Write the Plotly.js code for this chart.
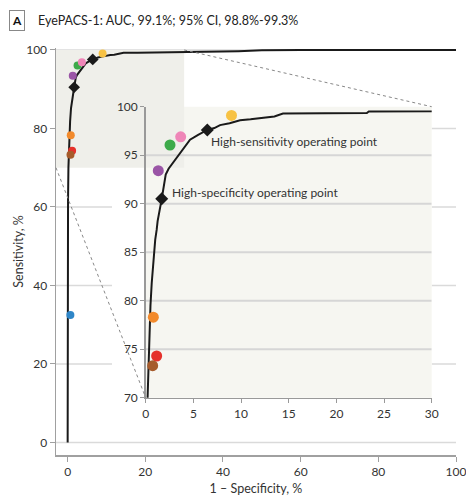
<!DOCTYPE html>
<html>
<head>
<meta charset="utf-8">
<script src="https://cdn.plot.ly/plotly-3.0.1.min.js"></script>
<style>html,body{margin:0;padding:0;background:#fff;}#chart{width:466px;height:502px;}</style>
</head>
<body>
<div id="chart"></div>
<script>
// ROC curve (1 - specificity %, sensitivity %)
const rocFpr = [0, 0, 0.05, 0.1, 0.2, 0.38, 0.5, 0.63, 0.87, 1.0, 1.15, 1.25, 1.68, 1.9, 2.1, 2.4, 3.0, 3.6, 4.2, 4.65, 5.5, 6.46, 7.2, 7.8, 8.8, 9.9, 11, 12, 13.5, 14.4, 18, 23.2, 23.4, 30, 35, 44, 50, 60, 80, 100];
const rocTpr = [0, 20, 45, 62, 70.1, 77, 79.5, 81.8, 85.2, 86.3, 87.3, 88.2, 90.5, 91.8, 93.0, 93.6, 94.4, 95.2, 96.0, 96.6, 97.1, 97.6, 97.8, 98.1, 98.3, 98.6, 98.7, 98.8, 99.0, 99.3, 99.3, 99.35, 99.5, 99.5, 99.6, 99.7, 99.9, 100, 100, 100];

// Individual graders
const graderFpr = [0.7, 0.8, 1.15, 0.73, 1.32, 2.55, 3.67, 9.0];
const graderTpr = [32.5, 78.3, 74.3, 73.3, 93.4, 96.05, 96.9, 99.1];
const graderColors = ['#2f86c8', '#f28a2c', '#e5312b', '#a65b2b', '#9a55a6', '#3daa4a', '#ef86b8', '#f7c244'];

// Operating points
const opFpr = [1.68, 6.46];
const opTpr = [90.5, 97.6];
const opLabels = ['High-specificity operating point', 'High-sensitivity operating point'];

// Ticks
const mainTicks = [0, 20, 40, 60, 80, 100];
const insetXTicks = [0, 5, 10, 15, 20, 25, 30];
const insetYTicks = [70, 75, 80, 85, 90, 95, 100];
const insetGrid = [75, 80, 85, 90, 95];

const FONT = 'Lato, "Open Sans", sans-serif';
const TXT = '#333333';

const ML = 56, MR = 10, MT = 48, MB = 47, W = 466, H = 502;
const PW = W - ML - MR, PH = H - MT - MB;
const mainX = [-3, 100], mainY = [-3.2, 100.5];
const insetX = [0, 30], insetY = [70, 100];
const insetDomX = [(145.7 - ML) / PW, (431.7 - ML) / PW];
const insetDomY = [(H - MB - 397.7) / PH, (H - MB - 106.7) / PH];

function px(v, r) { return (v - r[0]) / (r[1] - r[0]); }

const traces = [
  {x: rocFpr, y: rocTpr, xaxis: 'x', yaxis: 'y', mode: 'lines', line: {color: '#1a1a1a', width: 2}, hoverinfo: 'skip'},
  {x: graderFpr, y: graderTpr, xaxis: 'x', yaxis: 'y', mode: 'markers', marker: {color: graderColors, size: 8}},
  {x: opFpr, y: opTpr, xaxis: 'x', yaxis: 'y', mode: 'markers', marker: {color: '#1a1a1a', size: 9, symbol: 'diamond'}},
  {x: rocFpr, y: rocTpr, xaxis: 'x2', yaxis: 'y2', mode: 'lines', line: {color: '#1a1a1a', width: 2}},
  {x: graderFpr, y: graderTpr, xaxis: 'x2', yaxis: 'y2', mode: 'markers', marker: {color: graderColors, size: 11}},
  {x: opFpr, y: opTpr, xaxis: 'x2', yaxis: 'y2', mode: 'markers', marker: {color: '#1a1a1a', size: 10, symbol: 'diamond'}}
];

const shapes = [];
// shaded zoom region in main plot
shapes.push({type: 'rect', xref: 'x', yref: 'y', x0: -3, x1: 30, y0: 70, y1: 100, layer: 'below', fillcolor: '#efefea', line: {width: 0}});
// main gridlines
mainTicks.forEach(t => shapes.push({type: 'line', xref: 'paper', yref: 'y', x0: 0, x1: 1, y0: t, y1: t, layer: 'below', line: {color: '#dadada', width: 1.5}}));
// white box behind the inset (paper coords)
shapes.push({type: 'rect', xref: 'paper', yref: 'paper', x0: (112 - ML) / PW, x1: insetDomX[1], y0: (H - MB - 430) / PH, y1: (H - MB - 93) / PH, layer: 'below', fillcolor: '#ffffff', line: {width: 0}});
// inset background
shapes.push({type: 'rect', xref: 'paper', yref: 'paper', x0: insetDomX[0], x1: insetDomX[1], y0: insetDomY[0], y1: insetDomY[1], layer: 'below', fillcolor: '#f6f6f1', line: {width: 0}});
// connector dotted lines
shapes.push({type: 'line', xref: 'paper', yref: 'paper', x0: px(30, mainX), y0: px(100, mainY), x1: insetDomX[1], y1: insetDomY[1], layer: 'above', line: {color: '#888', width: 1, dash: 'dot'}});
shapes.push({type: 'line', xref: 'paper', yref: 'paper', x0: px(-3, mainX), y0: px(70, mainY), x1: insetDomX[0], y1: insetDomY[0], layer: 'above', line: {color: '#888', width: 1, dash: 'dot'}});
// inset gridlines
insetGrid.forEach(t => shapes.push({type: 'line', xref: 'x2', yref: 'y2', x0: insetX[0], x1: insetX[1], y0: t, y1: t, layer: 'below', line: {color: '#d6d6d6', width: 2}}));

const annotations = [
  {xref: 'paper', yref: 'paper', x: (16.5 - ML) / PW, y: (H - MB - 20.5) / PH, text: '<b>A</b>', showarrow: false, font: {family: FONT, size: 12, color: '#111'}, bordercolor: '#888', borderwidth: 1, borderpad: 2, xanchor: 'center', yanchor: 'middle'},
  {xref: 'x2', yref: 'y2', x: opFpr[1], y: opTpr[1], text: opLabels[1], showarrow: false, xanchor: 'left', yanchor: 'middle', xshift: 2, yshift: -12, font: {family: FONT, size: 12, color: TXT}},
  {xref: 'x2', yref: 'y2', x: opFpr[0], y: opTpr[0], text: opLabels[0], showarrow: false, xanchor: 'left', yanchor: 'middle', xshift: 8, yshift: 6, font: {family: FONT, size: 12, color: TXT}}
];

const axCommon = {showline: true, linecolor: '#a0a0a0', linewidth: 1.5, ticks: 'outside', ticklen: 5, tickcolor: '#a0a0a0', zeroline: false, showgrid: false, tickfont: {family: FONT, size: 12, color: TXT}, fixedrange: true, ticklabeloverflow: 'allow'};

const layout = {
  width: W, height: H,
  margin: {l: ML, r: MR, t: MT, b: MB},
  paper_bgcolor: '#ffffff', plot_bgcolor: 'rgba(0,0,0,0)',
  showlegend: false,
  font: {family: FONT, color: TXT},
  title: {text: 'EyePACS-1: AUC, 99.1%; 95% CI, 98.8%-99.3%', x: 38 / W, xanchor: 'left', xref: 'container', y: 1 - 21 / H, yanchor: 'middle', font: {family: FONT, size: 12.5, color: '#222'}},
  xaxis: Object.assign({}, axCommon, {range: mainX, tickvals: mainTicks, anchor: 'y', domain: [0, 1], title: {text: '1 – Specificity, %', standoff: 6, font: {family: FONT, size: 12.5, color: TXT}}}),
  yaxis: Object.assign({}, axCommon, {range: mainY, tickvals: mainTicks, anchor: 'x', domain: [0, 1], title: {text: 'Sensitivity, %', standoff: 0, font: {family: FONT, size: 12.5, color: TXT}}}),
  xaxis2: Object.assign({}, axCommon, {range: insetX, tickvals: insetXTicks, anchor: 'y2', domain: insetDomX, ticklen: 4, linecolor: '#999', tickcolor: '#999'}),
  yaxis2: Object.assign({}, axCommon, {range: insetY, tickvals: insetYTicks, anchor: 'x2', domain: insetDomY, ticklen: 4, linecolor: '#999', tickcolor: '#999'}),
  shapes: shapes,
  annotations: annotations
};

Plotly.newPlot('chart', traces, layout, {displayModeBar: false, staticPlot: true});
</script>
</body>
</html>
